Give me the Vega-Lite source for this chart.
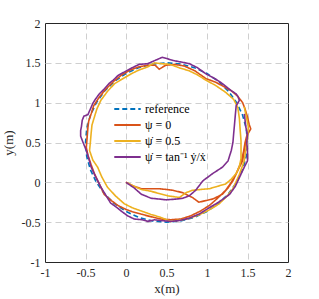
{
  "$schema": "https://vega.github.io/schema/vega-lite/v6.json",
  "width": 243,
  "height": 239,
  "autosize": {"type": "none"},
  "padding": {"left": 45, "top": 23, "right": 31, "bottom": 37},
  "background": "white",
  "config": {
    "view": {"stroke": "#262626", "strokeWidth": 1},
    "font": "Liberation Serif",
    "axis": {
      "labelFont": "Liberation Serif",
      "labelFontSize": 12,
      "labelColor": "#262626",
      "titleFont": "Liberation Serif",
      "titleFontSize": 13,
      "titleFontWeight": "normal",
      "titleColor": "#262626",
      "domain": false,
      "ticks": false,
      "grid": true,
      "gridColor": "#cfcfcf",
      "gridDash": [6, 4],
      "gridWidth": 1
    },
    "legend": {
      "labelFont": "Liberation Serif",
      "labelFontSize": 12,
      "labelColor": "#000000"
    }
  },
  "datasets": {
    "traj": [
      {"series": "reference", "order": 0, "x": 1.5, "y": 0.5},
      {"series": "reference", "order": 1, "x": 1.4848, "y": 0.6736},
      {"series": "reference", "order": 2, "x": 1.4397, "y": 0.842},
      {"series": "reference", "order": 3, "x": 1.366, "y": 1.0},
      {"series": "reference", "order": 4, "x": 1.266, "y": 1.1428},
      {"series": "reference", "order": 5, "x": 1.1428, "y": 1.266},
      {"series": "reference", "order": 6, "x": 1.0, "y": 1.366},
      {"series": "reference", "order": 7, "x": 0.842, "y": 1.4397},
      {"series": "reference", "order": 8, "x": 0.6736, "y": 1.4848},
      {"series": "reference", "order": 9, "x": 0.5, "y": 1.5},
      {"series": "reference", "order": 10, "x": 0.3264, "y": 1.4848},
      {"series": "reference", "order": 11, "x": 0.158, "y": 1.4397},
      {"series": "reference", "order": 12, "x": 0.0, "y": 1.366},
      {"series": "reference", "order": 13, "x": -0.1428, "y": 1.266},
      {"series": "reference", "order": 14, "x": -0.266, "y": 1.1428},
      {"series": "reference", "order": 15, "x": -0.366, "y": 1.0},
      {"series": "reference", "order": 16, "x": -0.4397, "y": 0.842},
      {"series": "reference", "order": 17, "x": -0.4848, "y": 0.6736},
      {"series": "reference", "order": 18, "x": -0.5, "y": 0.5},
      {"series": "reference", "order": 19, "x": -0.4848, "y": 0.3264},
      {"series": "reference", "order": 20, "x": -0.4397, "y": 0.158},
      {"series": "reference", "order": 21, "x": -0.366, "y": 0.0},
      {"series": "reference", "order": 22, "x": -0.266, "y": -0.1428},
      {"series": "reference", "order": 23, "x": -0.1428, "y": -0.266},
      {"series": "reference", "order": 24, "x": 0.0, "y": -0.366},
      {"series": "reference", "order": 25, "x": 0.158, "y": -0.4397},
      {"series": "reference", "order": 26, "x": 0.3264, "y": -0.4848},
      {"series": "reference", "order": 27, "x": 0.5, "y": -0.5},
      {"series": "reference", "order": 28, "x": 0.6736, "y": -0.4848},
      {"series": "reference", "order": 29, "x": 0.842, "y": -0.4397},
      {"series": "reference", "order": 30, "x": 1.0, "y": -0.366},
      {"series": "reference", "order": 31, "x": 1.1428, "y": -0.266},
      {"series": "reference", "order": 32, "x": 1.266, "y": -0.1428},
      {"series": "reference", "order": 33, "x": 1.366, "y": 0.0},
      {"series": "reference", "order": 34, "x": 1.4397, "y": 0.158},
      {"series": "reference", "order": 35, "x": 1.4848, "y": 0.3264},
      {"series": "reference", "order": 36, "x": 1.5, "y": 0.5},

      {"series": "ψ = 0", "order": 0, "x": 0.0, "y": 0.0},
      {"series": "ψ = 0", "order": 1, "x": 0.1, "y": -0.05},
      {"series": "ψ = 0", "order": 2, "x": 0.19, "y": -0.08},
      {"series": "ψ = 0", "order": 3, "x": 0.3, "y": -0.08},
      {"series": "ψ = 0", "order": 4, "x": 0.41, "y": -0.08},
      {"series": "ψ = 0", "order": 5, "x": 0.5, "y": -0.09},
      {"series": "ψ = 0", "order": 6, "x": 0.58, "y": -0.1},
      {"series": "ψ = 0", "order": 7, "x": 0.7, "y": -0.13},
      {"series": "ψ = 0", "order": 8, "x": 0.82, "y": -0.19},
      {"series": "ψ = 0", "order": 9, "x": 0.9, "y": -0.25},
      {"series": "ψ = 0", "order": 10, "x": 0.98, "y": -0.23},
      {"series": "ψ = 0", "order": 11, "x": 1.07, "y": -0.21},
      {"series": "ψ = 0", "order": 12, "x": 1.19, "y": -0.15},
      {"series": "ψ = 0", "order": 13, "x": 1.26, "y": -0.07},
      {"series": "ψ = 0", "order": 14, "x": 1.32, "y": 0.02},
      {"series": "ψ = 0", "order": 15, "x": 1.4, "y": 0.19},
      {"series": "ψ = 0", "order": 16, "x": 1.44, "y": 0.27},
      {"series": "ψ = 0", "order": 17, "x": 1.46, "y": 0.4},
      {"series": "ψ = 0", "order": 18, "x": 1.48, "y": 0.5},
      {"series": "ψ = 0", "order": 19, "x": 1.5, "y": 0.6},
      {"series": "ψ = 0", "order": 20, "x": 1.54, "y": 0.67},
      {"series": "ψ = 0", "order": 21, "x": 1.52, "y": 0.73},
      {"series": "ψ = 0", "order": 22, "x": 1.5, "y": 0.82},
      {"series": "ψ = 0", "order": 23, "x": 1.47, "y": 0.92},
      {"series": "ψ = 0", "order": 24, "x": 1.44, "y": 1.0},
      {"series": "ψ = 0", "order": 25, "x": 1.38, "y": 1.08},
      {"series": "ψ = 0", "order": 26, "x": 1.3, "y": 1.15},
      {"series": "ψ = 0", "order": 27, "x": 1.23, "y": 1.19},
      {"series": "ψ = 0", "order": 28, "x": 1.1, "y": 1.26},
      {"series": "ψ = 0", "order": 29, "x": 0.99, "y": 1.3},
      {"series": "ψ = 0", "order": 30, "x": 0.85, "y": 1.4},
      {"series": "ψ = 0", "order": 31, "x": 0.72, "y": 1.46},
      {"series": "ψ = 0", "order": 32, "x": 0.6, "y": 1.48},
      {"series": "ψ = 0", "order": 33, "x": 0.49, "y": 1.47},
      {"series": "ψ = 0", "order": 34, "x": 0.41, "y": 1.42},
      {"series": "ψ = 0", "order": 35, "x": 0.36, "y": 1.47},
      {"series": "ψ = 0", "order": 36, "x": 0.27, "y": 1.47},
      {"series": "ψ = 0", "order": 37, "x": 0.16, "y": 1.45},
      {"series": "ψ = 0", "order": 38, "x": 0.05, "y": 1.41},
      {"series": "ψ = 0", "order": 39, "x": -0.05, "y": 1.35},
      {"series": "ψ = 0", "order": 40, "x": -0.15, "y": 1.27},
      {"series": "ψ = 0", "order": 41, "x": -0.25, "y": 1.17},
      {"series": "ψ = 0", "order": 42, "x": -0.33, "y": 1.07},
      {"series": "ψ = 0", "order": 43, "x": -0.4, "y": 0.96},
      {"series": "ψ = 0", "order": 44, "x": -0.43, "y": 0.86},
      {"series": "ψ = 0", "order": 45, "x": -0.46, "y": 0.77},
      {"series": "ψ = 0", "order": 46, "x": -0.47, "y": 0.69},
      {"series": "ψ = 0", "order": 47, "x": -0.48, "y": 0.56},
      {"series": "ψ = 0", "order": 48, "x": -0.49, "y": 0.44},
      {"series": "ψ = 0", "order": 49, "x": -0.47, "y": 0.34},
      {"series": "ψ = 0", "order": 50, "x": -0.43, "y": 0.22},
      {"series": "ψ = 0", "order": 51, "x": -0.39, "y": 0.11},
      {"series": "ψ = 0", "order": 52, "x": -0.33, "y": -0.02},
      {"series": "ψ = 0", "order": 53, "x": -0.27, "y": -0.15},
      {"series": "ψ = 0", "order": 54, "x": -0.18, "y": -0.23},
      {"series": "ψ = 0", "order": 55, "x": -0.1, "y": -0.29},
      {"series": "ψ = 0", "order": 56, "x": 0.0, "y": -0.34},
      {"series": "ψ = 0", "order": 57, "x": 0.08, "y": -0.37},
      {"series": "ψ = 0", "order": 58, "x": 0.19, "y": -0.4},
      {"series": "ψ = 0", "order": 59, "x": 0.3, "y": -0.43},
      {"series": "ψ = 0", "order": 60, "x": 0.43, "y": -0.46},
      {"series": "ψ = 0", "order": 61, "x": 0.55, "y": -0.47},
      {"series": "ψ = 0", "order": 62, "x": 0.68, "y": -0.46},
      {"series": "ψ = 0", "order": 63, "x": 0.8, "y": -0.42},
      {"series": "ψ = 0", "order": 64, "x": 0.92, "y": -0.36},
      {"series": "ψ = 0", "order": 65, "x": 1.03, "y": -0.29},
      {"series": "ψ = 0", "order": 66, "x": 1.13, "y": -0.2},
      {"series": "ψ = 0", "order": 67, "x": 1.23, "y": -0.1},
      {"series": "ψ = 0", "order": 68, "x": 1.3, "y": 0.0},
      {"series": "ψ = 0", "order": 69, "x": 1.36, "y": 0.11},
      {"series": "ψ = 0", "order": 70, "x": 1.42, "y": 0.25},
      {"series": "ψ = 0", "order": 71, "x": 1.45, "y": 0.38},
      {"series": "ψ = 0", "order": 72, "x": 1.47, "y": 0.5},
      {"series": "ψ = 0", "order": 73, "x": 1.5, "y": 0.62},

      {"series": "ψ̇ = 0.5", "order": 0, "x": 0.0, "y": 0.0},
      {"series": "ψ̇ = 0.5", "order": 1, "x": 0.1, "y": -0.05},
      {"series": "ψ̇ = 0.5", "order": 2, "x": 0.19, "y": -0.09},
      {"series": "ψ̇ = 0.5", "order": 3, "x": 0.3, "y": -0.11},
      {"series": "ψ̇ = 0.5", "order": 4, "x": 0.41, "y": -0.14},
      {"series": "ψ̇ = 0.5", "order": 5, "x": 0.52, "y": -0.17},
      {"series": "ψ̇ = 0.5", "order": 6, "x": 0.66, "y": -0.19},
      {"series": "ψ̇ = 0.5", "order": 7, "x": 0.74, "y": -0.13},
      {"series": "ψ̇ = 0.5", "order": 8, "x": 0.82, "y": -0.1},
      {"series": "ψ̇ = 0.5", "order": 9, "x": 0.92, "y": -0.09},
      {"series": "ψ̇ = 0.5", "order": 10, "x": 1.03, "y": -0.08},
      {"series": "ψ̇ = 0.5", "order": 11, "x": 1.13, "y": -0.05},
      {"series": "ψ̇ = 0.5", "order": 12, "x": 1.23, "y": -0.02},
      {"series": "ψ̇ = 0.5", "order": 13, "x": 1.3, "y": 0.04},
      {"series": "ψ̇ = 0.5", "order": 14, "x": 1.36, "y": 0.11},
      {"series": "ψ̇ = 0.5", "order": 15, "x": 1.4, "y": 0.2},
      {"series": "ψ̇ = 0.5", "order": 16, "x": 1.42, "y": 0.3},
      {"series": "ψ̇ = 0.5", "order": 17, "x": 1.42, "y": 0.42},
      {"series": "ψ̇ = 0.5", "order": 18, "x": 1.42, "y": 0.52},
      {"series": "ψ̇ = 0.5", "order": 19, "x": 1.41, "y": 0.65},
      {"series": "ψ̇ = 0.5", "order": 20, "x": 1.4, "y": 0.8},
      {"series": "ψ̇ = 0.5", "order": 21, "x": 1.38, "y": 0.94},
      {"series": "ψ̇ = 0.5", "order": 22, "x": 1.33, "y": 1.04},
      {"series": "ψ̇ = 0.5", "order": 23, "x": 1.23, "y": 1.13},
      {"series": "ψ̇ = 0.5", "order": 24, "x": 1.1, "y": 1.22},
      {"series": "ψ̇ = 0.5", "order": 25, "x": 0.99, "y": 1.28},
      {"series": "ψ̇ = 0.5", "order": 26, "x": 0.88, "y": 1.35},
      {"series": "ψ̇ = 0.5", "order": 27, "x": 0.78, "y": 1.4},
      {"series": "ψ̇ = 0.5", "order": 28, "x": 0.65, "y": 1.44},
      {"series": "ψ̇ = 0.5", "order": 29, "x": 0.55, "y": 1.48},
      {"series": "ψ̇ = 0.5", "order": 30, "x": 0.43, "y": 1.49},
      {"series": "ψ̇ = 0.5", "order": 31, "x": 0.35, "y": 1.5},
      {"series": "ψ̇ = 0.5", "order": 32, "x": 0.27, "y": 1.45},
      {"series": "ψ̇ = 0.5", "order": 33, "x": 0.16, "y": 1.41},
      {"series": "ψ̇ = 0.5", "order": 34, "x": 0.06, "y": 1.36},
      {"series": "ψ̇ = 0.5", "order": 35, "x": -0.04, "y": 1.3},
      {"series": "ψ̇ = 0.5", "order": 36, "x": -0.14, "y": 1.24},
      {"series": "ψ̇ = 0.5", "order": 37, "x": -0.23, "y": 1.14},
      {"series": "ψ̇ = 0.5", "order": 38, "x": -0.31, "y": 1.03},
      {"series": "ψ̇ = 0.5", "order": 39, "x": -0.36, "y": 0.92},
      {"series": "ψ̇ = 0.5", "order": 40, "x": -0.39, "y": 0.82},
      {"series": "ψ̇ = 0.5", "order": 41, "x": -0.42, "y": 0.72},
      {"series": "ψ̇ = 0.5", "order": 42, "x": -0.43, "y": 0.62},
      {"series": "ψ̇ = 0.5", "order": 43, "x": -0.44, "y": 0.5},
      {"series": "ψ̇ = 0.5", "order": 44, "x": -0.45, "y": 0.4},
      {"series": "ψ̇ = 0.5", "order": 45, "x": -0.41, "y": 0.28},
      {"series": "ψ̇ = 0.5", "order": 46, "x": -0.35, "y": 0.19},
      {"series": "ψ̇ = 0.5", "order": 47, "x": -0.3, "y": 0.07},
      {"series": "ψ̇ = 0.5", "order": 48, "x": -0.23, "y": -0.06},
      {"series": "ψ̇ = 0.5", "order": 49, "x": -0.13, "y": -0.17},
      {"series": "ψ̇ = 0.5", "order": 50, "x": -0.02, "y": -0.27},
      {"series": "ψ̇ = 0.5", "order": 51, "x": 0.08, "y": -0.32},
      {"series": "ψ̇ = 0.5", "order": 52, "x": 0.19, "y": -0.36},
      {"series": "ψ̇ = 0.5", "order": 53, "x": 0.3, "y": -0.4},
      {"series": "ψ̇ = 0.5", "order": 54, "x": 0.43, "y": -0.44},
      {"series": "ψ̇ = 0.5", "order": 55, "x": 0.55, "y": -0.49},
      {"series": "ψ̇ = 0.5", "order": 56, "x": 0.62, "y": -0.48},
      {"series": "ψ̇ = 0.5", "order": 57, "x": 0.75, "y": -0.46},
      {"series": "ψ̇ = 0.5", "order": 58, "x": 0.9, "y": -0.41},
      {"series": "ψ̇ = 0.5", "order": 59, "x": 1.02, "y": -0.35},
      {"series": "ψ̇ = 0.5", "order": 60, "x": 1.15, "y": -0.27},
      {"series": "ψ̇ = 0.5", "order": 61, "x": 1.25, "y": -0.17},
      {"series": "ψ̇ = 0.5", "order": 62, "x": 1.32, "y": -0.08},
      {"series": "ψ̇ = 0.5", "order": 63, "x": 1.4, "y": 0.1},
      {"series": "ψ̇ = 0.5", "order": 64, "x": 1.46, "y": 0.27},
      {"series": "ψ̇ = 0.5", "order": 65, "x": 1.48, "y": 0.42},
      {"series": "ψ̇ = 0.5", "order": 66, "x": 1.5, "y": 0.55},
      {"series": "ψ̇ = 0.5", "order": 67, "x": 1.51, "y": 0.7},
      {"series": "ψ̇ = 0.5", "order": 68, "x": 1.48, "y": 0.85},
      {"series": "ψ̇ = 0.5", "order": 69, "x": 1.46, "y": 0.95},

      {"series": "ψ̇ = tan⁻¹ ẏ/ẋ", "order": 0, "x": 0.0, "y": 0.0},
      {"series": "ψ̇ = tan⁻¹ ẏ/ẋ", "order": 1, "x": 0.1, "y": -0.07},
      {"series": "ψ̇ = tan⁻¹ ẏ/ẋ", "order": 2, "x": 0.19, "y": -0.15},
      {"series": "ψ̇ = tan⁻¹ ẏ/ẋ", "order": 3, "x": 0.31, "y": -0.2},
      {"series": "ψ̇ = tan⁻¹ ẏ/ẋ", "order": 4, "x": 0.41, "y": -0.21},
      {"series": "ψ̇ = tan⁻¹ ẏ/ẋ", "order": 5, "x": 0.5, "y": -0.22},
      {"series": "ψ̇ = tan⁻¹ ẏ/ẋ", "order": 6, "x": 0.62, "y": -0.21},
      {"series": "ψ̇ = tan⁻¹ ẏ/ẋ", "order": 7, "x": 0.7, "y": -0.2},
      {"series": "ψ̇ = tan⁻¹ ẏ/ẋ", "order": 8, "x": 0.78, "y": -0.17},
      {"series": "ψ̇ = tan⁻¹ ẏ/ẋ", "order": 9, "x": 0.86, "y": -0.1},
      {"series": "ψ̇ = tan⁻¹ ẏ/ẋ", "order": 10, "x": 0.95, "y": 0.02},
      {"series": "ψ̇ = tan⁻¹ ẏ/ẋ", "order": 11, "x": 1.07, "y": 0.11},
      {"series": "ψ̇ = tan⁻¹ ẏ/ẋ", "order": 12, "x": 1.19, "y": 0.19},
      {"series": "ψ̇ = tan⁻¹ ẏ/ẋ", "order": 13, "x": 1.26, "y": 0.27},
      {"series": "ψ̇ = tan⁻¹ ẏ/ẋ", "order": 14, "x": 1.3, "y": 0.4},
      {"series": "ψ̇ = tan⁻¹ ẏ/ẋ", "order": 15, "x": 1.32, "y": 0.5},
      {"series": "ψ̇ = tan⁻¹ ẏ/ẋ", "order": 16, "x": 1.33, "y": 0.62},
      {"series": "ψ̇ = tan⁻¹ ẏ/ẋ", "order": 17, "x": 1.34, "y": 0.73},
      {"series": "ψ̇ = tan⁻¹ ẏ/ẋ", "order": 18, "x": 1.35, "y": 0.85},
      {"series": "ψ̇ = tan⁻¹ ẏ/ẋ", "order": 19, "x": 1.36, "y": 0.96},
      {"series": "ψ̇ = tan⁻¹ ẏ/ẋ", "order": 20, "x": 1.4, "y": 1.03},
      {"series": "ψ̇ = tan⁻¹ ẏ/ẋ", "order": 21, "x": 1.38, "y": 1.08},
      {"series": "ψ̇ = tan⁻¹ ẏ/ẋ", "order": 22, "x": 1.36, "y": 1.11},
      {"series": "ψ̇ = tan⁻¹ ẏ/ẋ", "order": 23, "x": 1.3, "y": 1.15},
      {"series": "ψ̇ = tan⁻¹ ẏ/ẋ", "order": 24, "x": 1.19, "y": 1.24},
      {"series": "ψ̇ = tan⁻¹ ẏ/ẋ", "order": 25, "x": 1.1, "y": 1.3},
      {"series": "ψ̇ = tan⁻¹ ẏ/ẋ", "order": 26, "x": 0.99, "y": 1.36},
      {"series": "ψ̇ = tan⁻¹ ẏ/ẋ", "order": 27, "x": 0.88, "y": 1.44},
      {"series": "ψ̇ = tan⁻¹ ẏ/ẋ", "order": 28, "x": 0.78, "y": 1.49},
      {"series": "ψ̇ = tan⁻¹ ẏ/ẋ", "order": 29, "x": 0.68, "y": 1.51},
      {"series": "ψ̇ = tan⁻¹ ẏ/ẋ", "order": 30, "x": 0.58, "y": 1.53},
      {"series": "ψ̇ = tan⁻¹ ẏ/ẋ", "order": 31, "x": 0.45, "y": 1.57},
      {"series": "ψ̇ = tan⁻¹ ẏ/ẋ", "order": 32, "x": 0.38, "y": 1.54},
      {"series": "ψ̇ = tan⁻¹ ẏ/ẋ", "order": 33, "x": 0.27, "y": 1.49},
      {"series": "ψ̇ = tan⁻¹ ẏ/ẋ", "order": 34, "x": 0.16, "y": 1.48},
      {"series": "ψ̇ = tan⁻¹ ẏ/ẋ", "order": 35, "x": 0.06, "y": 1.43},
      {"series": "ψ̇ = tan⁻¹ ẏ/ẋ", "order": 36, "x": -0.03, "y": 1.38},
      {"series": "ψ̇ = tan⁻¹ ẏ/ẋ", "order": 37, "x": -0.1, "y": 1.34},
      {"series": "ψ̇ = tan⁻¹ ẏ/ẋ", "order": 38, "x": -0.16, "y": 1.28},
      {"series": "ψ̇ = tan⁻¹ ẏ/ẋ", "order": 39, "x": -0.21, "y": 1.24},
      {"series": "ψ̇ = tan⁻¹ ẏ/ẋ", "order": 40, "x": -0.28, "y": 1.16},
      {"series": "ψ̇ = tan⁻¹ ẏ/ẋ", "order": 41, "x": -0.33, "y": 1.11},
      {"series": "ψ̇ = tan⁻¹ ẏ/ẋ", "order": 42, "x": -0.38, "y": 1.04},
      {"series": "ψ̇ = tan⁻¹ ẏ/ẋ", "order": 43, "x": -0.41, "y": 0.99},
      {"series": "ψ̇ = tan⁻¹ ẏ/ẋ", "order": 44, "x": -0.44, "y": 0.92},
      {"series": "ψ̇ = tan⁻¹ ẏ/ẋ", "order": 45, "x": -0.47, "y": 0.85},
      {"series": "ψ̇ = tan⁻¹ ẏ/ẋ", "order": 46, "x": -0.52, "y": 0.83},
      {"series": "ψ̇ = tan⁻¹ ẏ/ẋ", "order": 47, "x": -0.54, "y": 0.78},
      {"series": "ψ̇ = tan⁻¹ ẏ/ẋ", "order": 48, "x": -0.55, "y": 0.7},
      {"series": "ψ̇ = tan⁻¹ ẏ/ẋ", "order": 49, "x": -0.56, "y": 0.65},
      {"series": "ψ̇ = tan⁻¹ ẏ/ẋ", "order": 50, "x": -0.56, "y": 0.58},
      {"series": "ψ̇ = tan⁻¹ ẏ/ẋ", "order": 51, "x": -0.53, "y": 0.5},
      {"series": "ψ̇ = tan⁻¹ ẏ/ẋ", "order": 52, "x": -0.49, "y": 0.4},
      {"series": "ψ̇ = tan⁻¹ ẏ/ẋ", "order": 53, "x": -0.46, "y": 0.3},
      {"series": "ψ̇ = tan⁻¹ ẏ/ẋ", "order": 54, "x": -0.43, "y": 0.19},
      {"series": "ψ̇ = tan⁻¹ ẏ/ẋ", "order": 55, "x": -0.38, "y": 0.08},
      {"series": "ψ̇ = tan⁻¹ ẏ/ẋ", "order": 56, "x": -0.31, "y": -0.06},
      {"series": "ψ̇ = tan⁻¹ ẏ/ẋ", "order": 57, "x": -0.25, "y": -0.16},
      {"series": "ψ̇ = tan⁻¹ ẏ/ẋ", "order": 58, "x": -0.19, "y": -0.26},
      {"series": "ψ̇ = tan⁻¹ ẏ/ẋ", "order": 59, "x": -0.12, "y": -0.31},
      {"series": "ψ̇ = tan⁻¹ ẏ/ẋ", "order": 60, "x": -0.06, "y": -0.36},
      {"series": "ψ̇ = tan⁻¹ ẏ/ẋ", "order": 61, "x": 0.02, "y": -0.42},
      {"series": "ψ̇ = tan⁻¹ ẏ/ẋ", "order": 62, "x": 0.1, "y": -0.46},
      {"series": "ψ̇ = tan⁻¹ ẏ/ẋ", "order": 63, "x": 0.2, "y": -0.47},
      {"series": "ψ̇ = tan⁻¹ ẏ/ẋ", "order": 64, "x": 0.27, "y": -0.49},
      {"series": "ψ̇ = tan⁻¹ ẏ/ẋ", "order": 65, "x": 0.35, "y": -0.47},
      {"series": "ψ̇ = tan⁻¹ ẏ/ẋ", "order": 66, "x": 0.43, "y": -0.48},
      {"series": "ψ̇ = tan⁻¹ ẏ/ẋ", "order": 67, "x": 0.55, "y": -0.49},
      {"series": "ψ̇ = tan⁻¹ ẏ/ẋ", "order": 68, "x": 0.66, "y": -0.48},
      {"series": "ψ̇ = tan⁻¹ ẏ/ẋ", "order": 69, "x": 0.78, "y": -0.45},
      {"series": "ψ̇ = tan⁻¹ ẏ/ẋ", "order": 70, "x": 0.9, "y": -0.4},
      {"series": "ψ̇ = tan⁻¹ ẏ/ẋ", "order": 71, "x": 1.01, "y": -0.33},
      {"series": "ψ̇ = tan⁻¹ ẏ/ẋ", "order": 72, "x": 1.11, "y": -0.27},
      {"series": "ψ̇ = tan⁻¹ ẏ/ẋ", "order": 73, "x": 1.2, "y": -0.21},
      {"series": "ψ̇ = tan⁻¹ ẏ/ẋ", "order": 74, "x": 1.28, "y": -0.15},
      {"series": "ψ̇ = tan⁻¹ ẏ/ẋ", "order": 75, "x": 1.35, "y": -0.05},
      {"series": "ψ̇ = tan⁻¹ ẏ/ẋ", "order": 76, "x": 1.4, "y": 0.06},
      {"series": "ψ̇ = tan⁻¹ ẏ/ẋ", "order": 77, "x": 1.46, "y": 0.19},
      {"series": "ψ̇ = tan⁻¹ ẏ/ẋ", "order": 78, "x": 1.5, "y": 0.27},
      {"series": "ψ̇ = tan⁻¹ ẏ/ẋ", "order": 79, "x": 1.5, "y": 0.4},
      {"series": "ψ̇ = tan⁻¹ ẏ/ẋ", "order": 80, "x": 1.49, "y": 0.5},
      {"series": "ψ̇ = tan⁻¹ ẏ/ẋ", "order": 81, "x": 1.5, "y": 0.6},
      {"series": "ψ̇ = tan⁻¹ ẏ/ẋ", "order": 82, "x": 1.48, "y": 0.69},
      {"series": "ψ̇ = tan⁻¹ ẏ/ẋ", "order": 83, "x": 1.47, "y": 0.78},
      {"series": "ψ̇ = tan⁻¹ ẏ/ẋ", "order": 84, "x": 1.46, "y": 0.86}
    ]
  },
  "data": {"name": "traj"},
  "encoding": {
    "x": {"field": "x", "type": "quantitative",
      "scale": {"domain": [-1, 2], "nice": false, "zero": false},
      "axis": {"values": [-1, -0.5, 0, 0.5, 1, 1.5, 2], "labelExpr": "'' + datum.value", "title": "x(m)", "titlePadding": 4, "labelPadding": 5, "labelFlush": false,
        "gridOpacity": {"condition": {"test": "datum.value <= -1 || datum.value >= 2", "value": 0}, "value": 1}}},
    "y": {"field": "y", "type": "quantitative",
      "scale": {"domain": [-1, 2], "nice": false, "zero": false},
      "axis": {"values": [-1, -0.5, 0, 0.5, 1, 1.5, 2], "labelExpr": "'' + datum.value", "title": "y(m)", "titlePadding": 6, "labelPadding": 5,
        "gridOpacity": {"condition": {"test": "datum.value <= -1 || datum.value >= 2", "value": 0}, "value": 1}}},
    "order": {"field": "order", "type": "quantitative"},
    "color": {"field": "series", "type": "nominal",
      "scale": {"domain": ["reference", "ψ = 0", "ψ̇ = 0.5", "ψ̇ = tan⁻¹ ẏ/ẋ"],
        "range": ["#0072BD", "#D95319", "#EDB120", "#7E2F8E"]},
      "legend": {"title": null, "orient": "none", "legendX": 68, "legendY": 79,
        "symbolType": "stroke", "symbolSize": 700, "symbolStrokeWidth": 2,
        "clipHeight": 14, "rowPadding": 2, "labelOffset": 3, "padding": 0}},
    "strokeDash": {"field": "series", "type": "nominal",
      "scale": {"domain": ["reference", "ψ = 0", "ψ̇ = 0.5", "ψ̇ = tan⁻¹ ẏ/ẋ"],
        "range": [[5, 3], [1, 0], [1, 0], [1, 0]]},
      "legend": {"title": null, "orient": "none", "legendX": 68, "legendY": 79,
        "symbolType": "stroke", "symbolSize": 700, "symbolStrokeWidth": 2,
        "clipHeight": 14, "rowPadding": 2, "labelOffset": 3, "padding": 0}}
  },
  "layer": [
    {"transform": [{"filter": "datum.series === 'reference'"}],
     "mark": {"type": "line", "strokeWidth": 1.6, "clip": true}},
    {"transform": [{"filter": "datum.series === 'ψ = 0'"}],
     "mark": {"type": "line", "strokeWidth": 1.6, "clip": true}},
    {"transform": [{"filter": "datum.series === 'ψ̇ = 0.5'"}],
     "mark": {"type": "line", "strokeWidth": 1.6, "clip": true}},
    {"transform": [{"filter": "datum.series === 'ψ̇ = tan⁻¹ ẏ/ẋ'"}],
     "mark": {"type": "line", "strokeWidth": 1.6, "clip": true}}
  ]
}
